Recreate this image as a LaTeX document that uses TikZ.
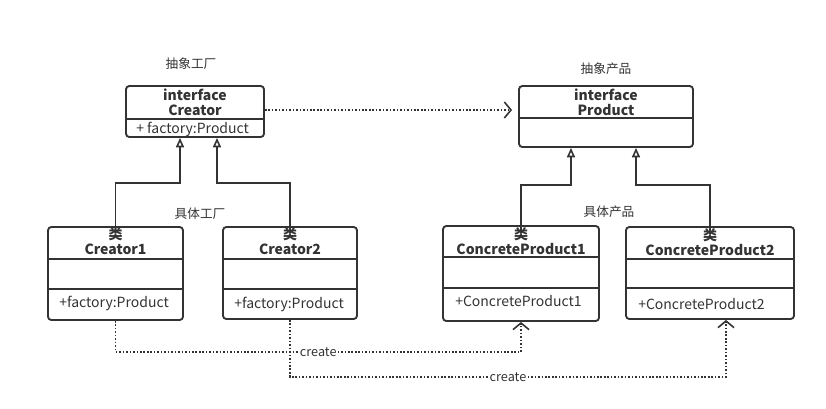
\documentclass[tikz,border=0pt]{standalone}
\usepackage{fontspec}
\setmainfont{Noto Sans CJK SC}
\usetikzlibrary{arrows.meta}
\definecolor{ink}{HTML}{333333}
\begin{document}
\begin{tikzpicture}[x=0.75pt,y=-0.75pt,
  cls/.style 2 args={draw=ink, line width=1.4pt, rounded corners=2.5pt,
    minimum width=#1*0.75pt, minimum height=#2*0.75pt, inner sep=0pt},
  divider/.style={draw=ink, line width=1.4pt},
  title/.style={font=\bfseries\fontsize{10.5}{11.3}\selectfont, text=ink, align=center, inner sep=0pt},
  member/.style={font=\fontsize{10.5}{11}\selectfont, text=ink, anchor=west, inner sep=0pt},
  caption/.style={font=\fontsize{9.5}{11}\selectfont, text=ink, inner sep=0pt},
  lbl/.style={font=\fontsize{9.5}{10}\selectfont, text=ink, fill=white, inner sep=1pt},
  inh/.style={draw=ink, line width=1.4pt, -{Triangle[open,length=7pt,width=6pt,line width=1.2pt]}},
  dep/.style={draw=ink, line width=1.4pt, dash pattern=on 1.2pt off 1.4pt,
    -{Straight Barb[length=5pt,width=12pt,line width=1.2pt]}}]
\useasboundingbox (0,0) rectangle (826,408);

% ---------- interfaces ----------
\node[cls={138}{51}] (creator) at (195,111.5) {};
\draw[divider] (126,119) -- (264,119);
\node[title] (creatorT) at (195,102.5) {interface\\Creator};
\node[member] (creatorM) at (136,129) {+ factory:Product};
\node[caption] (capAF) at (191,64) {抽象工厂};

\node[cls={174}{61}] (product) at (606,116.5) {};
\draw[divider] (519,118) -- (693,118);
\node[title] (productT) at (606,102.5) {interface\\Product};
\node[caption] (capAP) at (606,69) {抽象产品};

% ---------- concrete creators ----------
\node[cls={135}{93}] (c1) at (115.5,273.5) {};
\draw[divider] (48,259) -- (183,259);
\draw[divider] (48,289) -- (183,289);
\node[title] (c1T) at (115.5,241.5) {类\\Creator1};
\node[member] (c1M) at (59,303) {+factory:Product};

\node[cls={134}{92}] (c2) at (290,273) {};
\draw[divider] (223,259) -- (357,259);
\draw[divider] (223,289) -- (357,289);
\node[title] (c2T) at (290,241.5) {类\\Creator2};
\node[member] (c2M) at (234,304) {+factory:Product};
\node[caption] (capCF) at (200,214) {具体工厂};

% ---------- concrete products ----------
\node[cls={156}{95}] (p1) at (521,273.5) {};
\draw[divider] (443,257) -- (599,257);
\draw[divider] (443,288) -- (599,288);
\node[title] (p1T) at (521,241) {类\\ConcreteProduct1};
\node[member] (p1M) at (455,301) {+ConcreteProduct1};

\node[cls={168}{92}] (p2) at (710,273) {};
\draw[divider] (626,259) -- (794,259);
\draw[divider] (626,288) -- (794,288);
\node[title] (p2T) at (710,242) {类\\ConcreteProduct2};
\node[member] (p2M) at (638,304) {+ConcreteProduct2};
\node[caption] (capCP) at (609,212) {具体产品};

% ---------- attachment points ----------
\coordinate (crA) at ([xshift=-15*0.75pt]creator.south);
\coordinate (crB) at ([xshift=22*0.75pt]creator.south);
\coordinate (prA) at ([xshift=-35*0.75pt]product.south);
\coordinate (prB) at ([xshift=30*0.75pt]product.south);
\coordinate (p1in) at (p1.south);
\coordinate (p2in) at ([xshift=16*0.75pt]p2.south);

% ---------- generalisation ----------
\draw[inh] (c1.north) -- ++(0,-43) -| (crA);
\draw[inh] (c2.north) -- ++(0,-43) -| (crB);
\draw[inh] (p1.north) -- ++(0,-40) -| (prA);
\draw[inh] (p2.north) -- ++(0,-41) -| (prB);

% ---------- dependencies ----------
\draw[dep, shorten >=4.5pt] ([yshift=1.5*0.75pt]creator.east) -- ([yshift=1.5*0.75pt]creator.east -| product.west);
\draw[dep] (c1.south) -- ++(0,31) -| node[lbl,pos=0.25] {create} (p1in);
\draw[dep] (c2.south) -- ++(0,57) -| node[lbl,pos=0.25] {create} (p2in);
\end{tikzpicture}
\end{document}
